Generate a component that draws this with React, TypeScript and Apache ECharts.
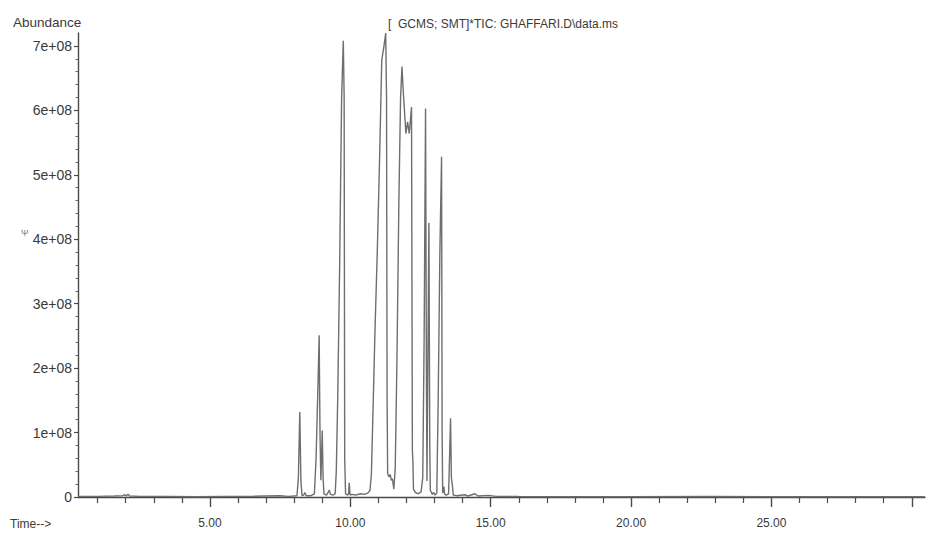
import React, { useEffect, useRef } from "react";
import * as echarts from "echarts";

// Retention time (min) of each point of the TIC trace
const times = [
  0.3, 1.0, 1.6, 1.9, 1.97, 2.02, 2.08, 2.14, 2.5, 3.5, 4.5, 5.5, 6.5, 7.0, 7.5, 7.8,
  8.1, 8.15, 8.2, 8.24, 8.28, 8.34, 8.38, 8.43, 8.6, 8.72, 8.78, 8.84, 8.89, 8.92,
  8.95, 8.98, 9.0, 9.03, 9.06, 9.15, 9.22, 9.25, 9.29, 9.4, 9.46, 9.5, 9.55, 9.62,
  9.69, 9.75, 9.78, 9.8, 9.83, 9.9, 9.94, 9.96, 9.99, 10.05, 10.2, 10.35, 10.5,
  10.62, 10.7, 10.75, 10.8, 10.88, 10.96, 11.04, 11.12, 11.2, 11.26, 11.29, 11.31,
  11.33, 11.38, 11.42, 11.46, 11.5, 11.55, 11.6, 11.66, 11.73, 11.79, 11.84, 11.89,
  11.95, 11.98, 12.04, 12.1, 12.18, 12.2, 12.21, 12.23, 12.25, 12.32, 12.42, 12.52,
  12.58, 12.63, 12.68, 12.71, 12.73, 12.76, 12.8, 12.83, 12.85, 12.88, 12.92, 12.96,
  13.02, 13.08, 13.13, 13.19, 13.25, 13.27, 13.29, 13.33, 13.36, 13.42, 13.5, 13.54,
  13.57, 13.6, 13.64, 13.67, 13.8, 14.08, 14.2, 14.44, 14.55, 14.91, 15.2, 16, 18, 20,
  22.9, 25, 28, 30.47,
];

// Abundance at each of those times
const abundance = [
  1e6, 1e6, 1.5e6, 2e6, 3.5e6, 1.5e6, 4.5e6, 1.5e6, 1e6, 1e6, 0.5e6, 1e6, 1e6, 1.5e6, 2e6, 1e6,
  2e6, 3e7, 1.32e8, 2.5e7, 2e6, 3e6, 7e6, 2e6, 2e6, 5e6, 6e7, 1.6e8, 2.51e8, 1.0e8,
  2.6e7, 7e7, 1.03e8, 3e7, 5e6, 3e6, 8e6, 1.1e7, 4e6, 3e6, 5e6, 4e7, 1.5e8, 3.6e8,
  6.2e8, 7.08e8, 6.2e8, 6e7, 5e6, 3e6, 5e6, 2.2e7, 3e6, 4e6, 3e6, 5e6, 4e6,
  6e6, 1e7, 3.5e7, 1.2e8, 2.6e8, 3.8e8, 5.2e8, 6.78e8, 7.0e8, 7.2e8, 6.2e8, 1.5e8,
  3.6e7, 3.1e7, 3.5e7, 2.6e7, 2.8e7, 1.2e7, 4.5e7, 2.1e8, 4.6e8, 6.2e8, 6.68e8, 6.26e8,
  5.85e8, 5.64e8, 5.82e8, 5.64e8, 6.05e8, 2.5e8, 7.2e7, 5.5e7, 1.2e7, 7e6, 5e6, 8e6,
  3e7, 2.5e8, 6.03e8, 2.0e8, 2.5e7, 2.0e8, 4.25e8, 8e7, 1e7, 8e6, 4e6, 7e6,
  3e6, 6e6, 1.5e8, 3.8e8, 5.28e8, 1.0e8, 6e6, 1.6e7, 4e6, 3e6, 5e6, 7e7,
  1.22e8, 3e7, 1.6e7, 3e6, 2e6, 3.5e6, 1.5e6, 5e6, 1.5e6, 2.5e6, 1e6, 0.8e6, 0.5e6, 0.5e6,
  1e6, 0.5e6, 0.5e6, 0.5e6,
];

// Axis ticks and labels
const yTickValues = [0, 1e8, 2e8, 3e8, 4e8, 5e8, 6e8, 7e8];
const yMinorTicks = [
  0.2e8, 0.4e8, 0.6e8, 0.8e8, 1.2e8, 1.4e8, 1.6e8, 1.8e8, 2.2e8, 2.4e8, 2.6e8, 2.8e8,
  3.2e8, 3.4e8, 3.6e8, 3.8e8, 4.2e8, 4.4e8, 4.6e8, 4.8e8, 5.2e8, 5.4e8, 5.6e8, 5.8e8,
  6.2e8, 6.4e8, 6.6e8, 6.8e8,
];
const xMajorTicks = [5, 10, 15, 20, 25, 30];
const xLabelValues = [5, 10, 15, 20, 25];
const xMinorTicks = [
  1, 2, 3, 4, 6, 7, 8, 9, 11, 12, 13, 14, 16, 17, 18, 19, 21, 22, 23, 24, 26, 27, 28, 29,
];

const titleText = "[  GCMS; SMT]*TIC: GHAFFARI.D\\data.ms";
const yName = "Abundance";
const xName = "Time-->";

const FONT = "'Liberation Sans', Arial, sans-serif";
const AXIS_COLOR = "#4a4a4a";
const TEXT_COLOR = "#3a3a3a";

export default function App() {
  const ref = useRef<HTMLDivElement>(null);

  useEffect(() => {
    if (!ref.current) return;
    const chart = echarts.init(ref.current, undefined, { renderer: "svg" });
    const data = times.map((t, i) => [t, abundance[i]]);

    chart.setOption({
      animation: false,
      backgroundColor: "#ffffff",
      grid: { left: 78, right: 7, top: 33, bottom: 39, containLabel: false },
      graphic: [
        {
          type: "text",
          left: 13,
          top: 15,
          style: { text: yName, fill: TEXT_COLOR, font: `13.5px ${FONT}` },
        },
        {
          type: "text",
          left: 388,
          top: 18,
          style: { text: titleText, fill: TEXT_COLOR, font: `12px ${FONT}` },
        },
        {
          type: "text",
          left: 10,
          top: 518,
          style: { text: xName, fill: TEXT_COLOR, font: `12px ${FONT}` },
        },
        {
          type: "text",
          left: 21,
          top: 228,
          style: { text: "Ψ", fill: "#777", font: `9px ${FONT}` },
        },
      ],
      xAxis: [
        {
          type: "value",
          position: "bottom",
          min: 0.3,
          max: 30.47,
          axisLine: { show: true, lineStyle: { color: AXIS_COLOR, width: 1.4 } },
          axisTick: {
            show: true,
            customValues: xMajorTicks,
            length: 10,
            lineStyle: { color: AXIS_COLOR, width: 1.4 },
          },
          axisLabel: {
            show: true,
            customValues: xLabelValues,
            margin: 20,
            color: TEXT_COLOR,
            fontFamily: FONT,
            fontSize: 12,
            formatter: (v: number) => v.toFixed(2),
          },
          splitLine: { show: false },
        },
        {
          type: "value",
          position: "bottom",
          min: 0.3,
          max: 30.47,
          axisLine: { show: false },
          axisTick: {
            show: true,
            customValues: xMinorTicks,
            length: 6,
            lineStyle: { color: AXIS_COLOR, width: 1.2 },
          },
          axisLabel: { show: false },
          splitLine: { show: false },
        },
      ],
      yAxis: [
        {
          type: "value",
          position: "left",
          min: 0,
          max: 7.2e8,
          axisLine: { show: true, lineStyle: { color: AXIS_COLOR, width: 1.4 } },
          axisTick: {
            show: true,
            customValues: yTickValues,
            length: 4,
            lineStyle: { color: AXIS_COLOR, width: 1.2 },
          },
          axisLabel: {
            show: true,
            customValues: yTickValues,
            margin: 6,
            color: TEXT_COLOR,
            fontFamily: FONT,
            fontSize: 14,
            formatter: (v: number) => (v === 0 ? "0" : `${Math.round(v / 1e8)}e+08`),
          },
          splitLine: { show: false },
        },
        {
          type: "value",
          position: "left",
          min: 0,
          max: 7.2e8,
          axisLine: { show: false },
          axisTick: {
            show: true,
            customValues: yMinorTicks,
            length: 2.5,
            lineStyle: { color: "#6a6a6a", width: 1 },
          },
          axisLabel: { show: false },
          splitLine: { show: false },
        },
      ],
      series: [
        {
          type: "line",
          xAxisIndex: 0,
          yAxisIndex: 0,
          data,
          showSymbol: false,
          symbol: "none",
          smooth: false,
          clip: true,
          lineStyle: { color: "#6e6e6e", width: 1.4 },
        },
      ],
    });

    return () => chart.dispose();
  }, []);

  return (
    <div
      ref={ref}
      style={{ position: "fixed", left: 0, top: 0, width: 932, height: 536, background: "#fff" }}
    />
  );
}
